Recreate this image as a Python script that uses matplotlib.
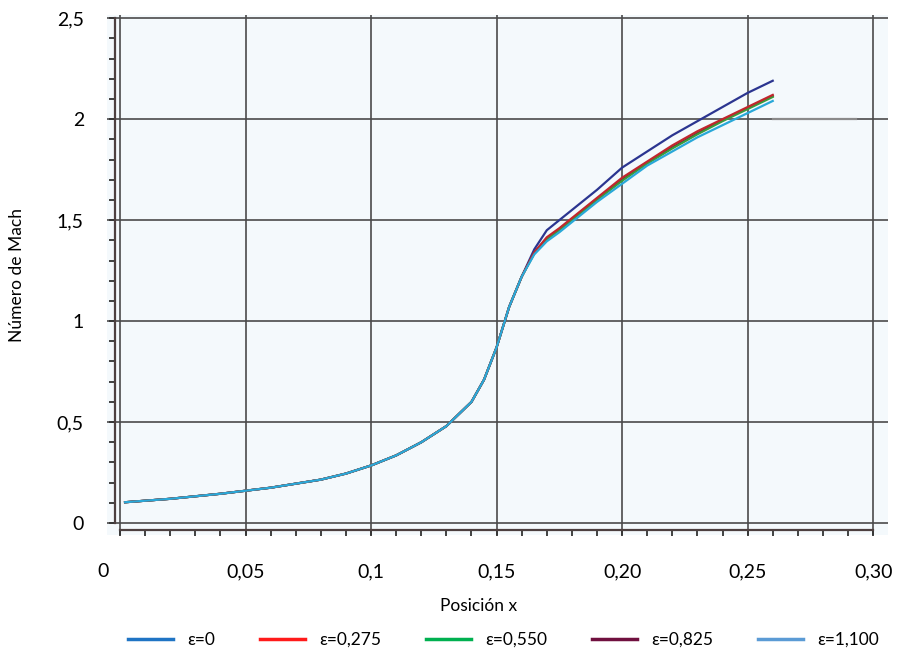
import matplotlib
matplotlib.use("Agg")
import matplotlib.pyplot as plt
import matplotlib.transforms as mtransforms
from matplotlib.lines import Line2D
from matplotlib.ticker import MultipleLocator, FuncFormatter

plt.rcParams['font.family'] = ['Lato', 'DejaVu Sans']

# Position along the nozzle
x = [0.002, 0.02, 0.04, 0.06, 0.08, 0.09, 0.10, 0.11, 0.12, 0.13, 0.14, 0.145,
     0.15, 0.155, 0.16, 0.165, 0.17, 0.175, 0.18, 0.19, 0.20, 0.21, 0.22, 0.23,
     0.24, 0.25, 0.26]

# common part (subsonic up to the throat)
base = [0.103, 0.12, 0.145, 0.175, 0.215, 0.245, 0.285, 0.335, 0.40, 0.48, 0.60, 0.71,
        0.87, 1.07, 1.22]

mach_e0 = base + [1.355, 1.45, 1.50, 1.55, 1.65, 1.76, 1.84, 1.92, 1.99, 2.06, 2.13, 2.19]
mach_e0275 = base + [1.34, 1.415, 1.46, 1.51, 1.61, 1.71, 1.79, 1.87, 1.94, 2.00, 2.06, 2.12]
mach_e0550 = base + [1.335, 1.405, 1.45, 1.50, 1.60, 1.695, 1.78, 1.855, 1.925, 1.99, 2.05, 2.11]
mach_e0825 = base + [1.338, 1.41, 1.455, 1.505, 1.605, 1.70, 1.785, 1.86, 1.93, 1.995, 2.055, 2.115]
mach_e1100 = base + [1.33, 1.395, 1.44, 1.49, 1.59, 1.68, 1.77, 1.84, 1.91, 1.97, 2.03, 2.09]

labels = ["ε=0", "ε=0,275", "ε=0,550", "ε=0,825", "ε=1,100"]
series = [mach_e0, mach_e0275, mach_e0550, mach_e0825, mach_e1100]
line_colors = ["#2b3590", "#c0272d", "#3a9a3a", "#6b1b3a", "#29a8d8"]
line_z = [3, 5, 4, 3, 6]
legend_colors = ["#1f74c4", "#ff1a1a", "#00b050", "#70103f", "#5b9bd5"]

# short grey reference segment at the exit
ref_x = [0.26, 0.293]
ref_y = [2.0, 2.0]

fig = plt.figure(figsize=(8.99, 6.58), dpi=100)
ax = fig.add_axes([0.119, 0.187, 0.869, 0.790])
ax.set_facecolor("#f4f9fc")

for ys, c, z in zip(series, line_colors, line_z):
    ax.plot(x, ys, color=c, lw=1.6, zorder=z)
ax.plot(ref_x, ref_y, color="#8a8a8a", lw=1.6, zorder=3)

ax.set_xlim(-0.0052, 0.306)
ax.set_ylim(-0.059, 2.515)

ax.xaxis.set_major_locator(MultipleLocator(0.05))
ax.xaxis.set_minor_locator(MultipleLocator(0.01))
ax.yaxis.set_major_locator(MultipleLocator(0.5))
ax.yaxis.set_minor_locator(MultipleLocator(0.1))

xlabels = {0: "0", 1: "0,05", 2: "0,1", 3: "0,15", 4: "0,20", 5: "0,25", 6: "0,30"}
ax.xaxis.set_major_formatter(FuncFormatter(lambda v, p: xlabels.get(int(round(v / 0.05)), "")))
ax.yaxis.set_major_formatter(FuncFormatter(lambda v, p: ("%g" % v).replace(".", ",")))

ax.grid(True, which="major", color="#4a4a4a", lw=1.4, alpha=0.85, zorder=1)
ax.set_axisbelow(True)

for s in ["top", "right"]:
    ax.spines[s].set_visible(False)
ax.spines["left"].set_position(("data", -0.0022))
ax.spines["left"].set_bounds(0, 2.5)
ax.spines["bottom"].set_position(("data", -0.035))
ax.spines["bottom"].set_bounds(0, 0.30)
for s in ["left", "bottom"]:
    ax.spines[s].set_color("#4d4040")
    ax.spines[s].set_linewidth(1.6)

ax.tick_params(which="both", direction="out", length=4, width=1.3, color="#333333")
ax.tick_params(axis="y", which="major", pad=18, labelsize=14)
ax.tick_params(axis="x", which="major", pad=20, labelsize=14)

# first x label sits a bit to the left in the original
fig.canvas.draw()
for t in ax.get_xticklabels():
    if t.get_text() == "0":
        t.set_transform(t.get_transform() + mtransforms.ScaledTranslation(-0.17, 0, fig.dpi_scale_trans))

ax.set_xlabel("Posición x", fontsize=12.5)
ax.xaxis.set_label_coords(0.475, -0.122)
ax.set_ylabel("Número de Mach", fontsize=12.5)
ax.yaxis.set_label_coords(-0.105, 0.5)

handles = [Line2D([], [], color=c, lw=2.5) for c in legend_colors]
fig.legend(handles, labels, loc="lower center", bbox_to_anchor=(0.56, -0.008), ncol=5,
           frameon=False, fontsize=12.5, handlelength=2.6, columnspacing=2.6)

plt.savefig("out.png", dpi=100)
